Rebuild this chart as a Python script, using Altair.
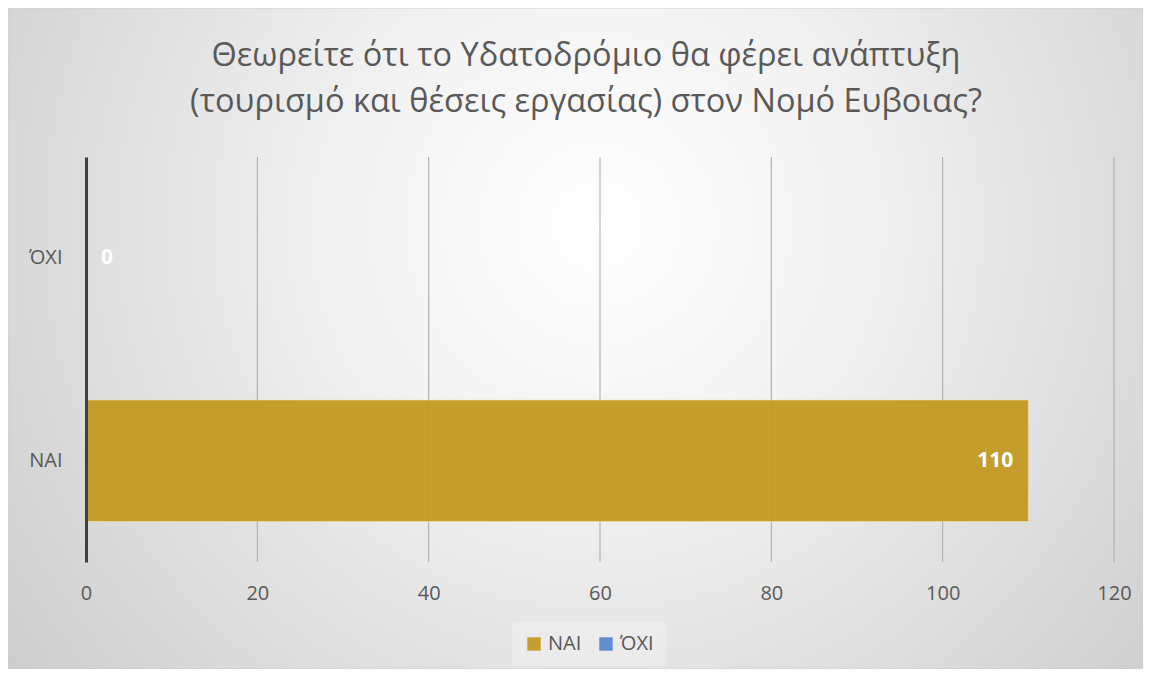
import altair as alt
import pandas as pd

# ---- data ----
categories = ["ΝΑΙ", "ΌΧΙ"]
values = [110, 0]
series_colors = ["#C49A23", "#5B87CC"]
x_ticks = [0, 20, 40, 60, 80, 100, 120]
title_lines = [
    "Θεωρείτε ότι το Υδατοδρόμιο θα φέρει ανάπτυξη",
    "(τουρισμό και θέσεις εργασίας) στον Νομό Ευβοιας?",
]

W, H = 1028, 405
PL, PT, PR, PB = 78, 149, 29, 107
FONT = "Open Sans"
TXT = "#595959"

df = pd.DataFrame({"cat": categories, "value": values})
ticks_df = pd.DataFrame({"t": x_ticks[1:]})

x_scale = alt.Scale(domain=[0, 120])
y_sort = ["ΌΧΙ", "ΝΑΙ"]

x_axis = alt.Axis(
    values=x_ticks,
    title=None,
    grid=False,
    domain=False,
    ticks=False,
    labelFont=FONT,
    labelFontSize=20,
    labelColor=TXT,
    labelPadding=21,
    labelFlush=False,
    zindex=1,
)

bg = alt.Chart(pd.DataFrame({"k": [0]})).mark_rect(
    fill=alt.Gradient(
        gradient="radial",
        stops=[
            alt.GradientStop(color="#ffffff", offset=0),
            alt.GradientStop(color="#f2f2f2", offset=0.3),
            alt.GradientStop(color="#c4c4c4", offset=1),
        ],
        x1=0.52, y1=0.4, x2=0.52, y2=0.4, r1=0, r2=0.75,
    ),
    stroke="#cfcfcf",
    strokeWidth=1,
).encode(
    x=alt.value(-PL),
    x2=alt.value(W + PR),
    y=alt.value(-PT),
    y2=alt.value(H + PB),
)

grid = alt.Chart(ticks_df).mark_rule(color="#a8a8a8", strokeWidth=1).encode(
    x=alt.X("t:Q", scale=x_scale, axis=x_axis)
)

bars = alt.Chart(df).mark_bar(opacity=0.95, stroke="#f0e2b0", strokeWidth=1, strokeOpacity=0.6).encode(
    y=alt.Y(
        "cat:N",
        sort=y_sort,
        scale=alt.Scale(paddingInner=0.4, paddingOuter=0.2),
        axis=alt.Axis(
            title=None,
            labelFont=FONT,
            labelFontSize=20,
            labelColor=TXT,
            labelPadding=24,
            ticks=False,
            domainColor="#404040",
            domainWidth=3,
            grid=False,
            zindex=1,
        ),
    ),
    x=alt.X("value:Q", scale=x_scale, axis=x_axis),
    color=alt.Color(
        "cat:N",
        scale=alt.Scale(domain=categories, range=series_colors),
        legend=alt.Legend(
            title=None,
            orient="none",
            legendX=426,
            legendY=465,
            direction="horizontal",
            symbolType="square",
            symbolSize=180,
            symbolStrokeWidth=0,
            labelFont=FONT,
            labelFontSize=20,
            labelColor=TXT,
            columnPadding=14,
            fillColor="rgba(255,255,255,0.25)",
            padding=12,
        ),
    ),
)

lbl_pos = alt.Chart(df).transform_filter("datum.value > 0").mark_text(
    align="right", baseline="middle", dx=-15, color="white", font=FONT, fontSize=21, fontWeight="bold"
).encode(
    y=alt.Y("cat:N", sort=y_sort),
    x=alt.X("value:Q", scale=x_scale),
    text="value:Q",
)

lbl_zero = alt.Chart(df).transform_filter("datum.value <= 0").mark_text(
    align="left", baseline="middle", dx=15, color="white", font=FONT, fontSize=21, fontWeight="bold"
).encode(
    y=alt.Y("cat:N", sort=y_sort),
    x=alt.X("value:Q", scale=x_scale),
    text="value:Q",
)

chart = alt.layer(bg, grid, bars, lbl_pos, lbl_zero).properties(
    width=W,
    height=H,
    padding={"left": PL, "top": PT, "right": PR, "bottom": PB},
    autosize=alt.AutoSizeParams(type="none"),
    title=alt.TitleParams(
        text=title_lines,
        font=FONT,
        fontSize=32.5,
        fontWeight="normal",
        color=TXT,
        anchor="middle",
        lineHeight=46,
        offset=-111,
        dx=-14,
    ),
).configure(background="#ffffff").configure_view(stroke=None)

chart.save("out.html", embed_options={"renderer": "svg", "actions": False})
